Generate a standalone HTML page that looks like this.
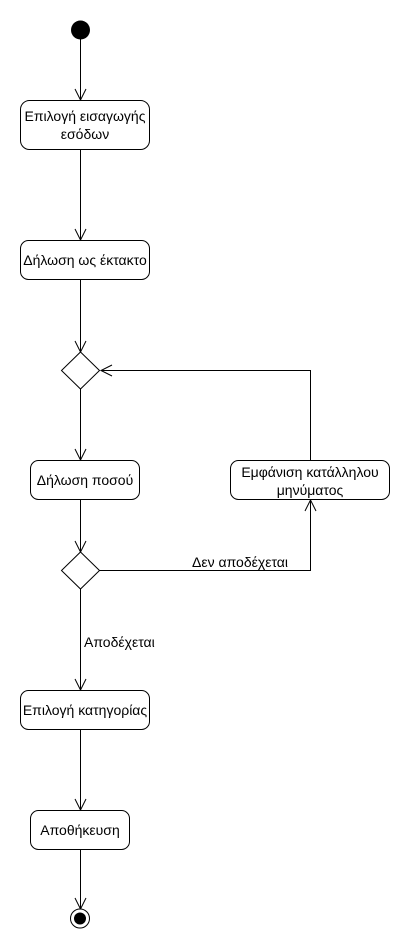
<!DOCTYPE html>
<html><head><meta charset="utf-8"><style>body{margin:0;background:#fff}svg{display:block}text{font-family:"Liberation Sans","DejaVu Sans",sans-serif;font-size:14px;fill:#000}</style></head><body>
<svg width="410" height="950" viewBox="0 0 410 950" xmlns="http://www.w3.org/2000/svg">
<g fill="none" stroke="#000" stroke-width="1">
<line x1="80.5" y1="39" x2="80.5" y2="100"/>
<line x1="80.5" y1="149" x2="80.5" y2="240"/>
<line x1="80.5" y1="279" x2="80.5" y2="351"/>
<line x1="80.5" y1="389" x2="80.5" y2="460"/>
<line x1="80.5" y1="499" x2="80.5" y2="551"/>
<line x1="80.5" y1="589" x2="80.5" y2="690"/>
<line x1="80.5" y1="729" x2="80.5" y2="810"/>
<line x1="80.5" y1="849" x2="80.5" y2="908"/>
<polyline points="99,570.5 310.5,570.5 310.5,500"/>
<polyline points="310.5,460 310.5,370.5 101,370.5"/>
<polyline points="75,89 80.5,100 86,89"/>
<polyline points="75,229 80.5,240 86,229"/>
<polyline points="75,341 80.5,352 86,341"/>
<polyline points="75,449 80.5,460 86,449"/>
<polyline points="75,541 80.5,552 86,541"/>
<polyline points="75,679 80.5,690 86,679"/>
<polyline points="75,799 80.5,810 86,799"/>
<polyline points="75,898 80.5,909 86,898"/>
<polyline points="305,511 310.5,500 316,511"/>
<polyline points="112,365 101,370.5 112,376"/>
<rect x="20.5" y="100.5" width="129" height="49" rx="9"/>
<rect x="20.5" y="240.5" width="129" height="39" rx="8"/>
<rect x="30.5" y="460.5" width="109" height="39" rx="8"/>
<rect x="230.5" y="460.5" width="159" height="39" rx="8"/>
<rect x="20.5" y="690.5" width="129" height="39" rx="8"/>
<rect x="30.5" y="810.5" width="99" height="39" rx="8"/>
<polygon points="80.5,352 99.5,370.5 80.5,389 61.5,370.5" fill="#fff"/>
<polygon points="80.5,552 99.5,570.5 80.5,589 61.5,570.5" fill="#fff"/>
<circle cx="80" cy="918.5" r="9.5" fill="#fff"/>
</g>
<circle cx="80.5" cy="30" r="9.5" fill="#000"/>
<circle cx="80" cy="918.5" r="6" fill="#000"/>
<g text-anchor="middle">
<text x="85" y="121">Επιλογή εισαγωγής</text>
<text x="85" y="139">εσόδων</text>
<text x="85" y="265">Δήλωση ως έκτακτο</text>
<text x="85" y="485">Δήλωση ποσού</text>
<text x="310" y="477">Εμφάνιση κατάλληλου</text>
<text x="310" y="495">μηνύματος</text>
<text x="85" y="715">Επιλογή κατηγορίας</text>
<text x="80" y="835">Αποθήκευση</text>
</g>
<text x="192" y="567">Δεν αποδέχεται</text>
<text x="84" y="647">Αποδέχεται</text>
</svg>
</body></html>
